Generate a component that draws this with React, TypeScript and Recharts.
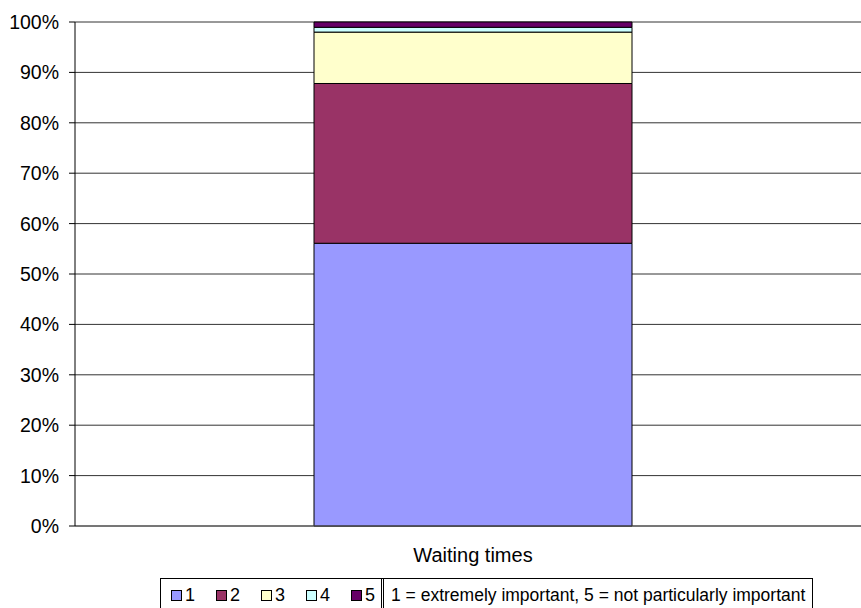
import { BarChart, Bar, XAxis, YAxis, CartesianGrid } from 'recharts';

// one stacked bar: share of answers per importance rating
const categories = ['Waiting times'];
const ratingKeys = ['1', '2', '3', '4', '5'];
const ratingShares = [56.1, 31.7, 10.2, 0.95, 1.05];
const ratingColors = ['#9999FF', '#993366', '#FFFFCC', '#CCFFFF', '#660066'];
const yTicks = [0, 10, 20, 30, 40, 50, 60, 70, 80, 90, 100];
const legendNote = '1 = extremely important, 5 = not particularly important';

const data = categories.map((name) => {
  const row: Record<string, string | number> = { name };
  ratingKeys.forEach((k, i) => {
    row[k] = ratingShares[i];
  });
  return row;
});

const font = '"Liberation Sans", Arial, sans-serif';

function App() {
  return (
    <div
      style={{
        position: 'absolute',
        left: 0,
        top: 0,
        width: 861,
        height: 608,
        overflow: 'hidden',
        background: '#fff',
        fontFamily: font,
      }}
    >
      <BarChart
        width={871}
        height={608}
        data={data}
        margin={{ top: 22, right: 0, left: 0, bottom: 52 }}
      >
        <CartesianGrid vertical={false} stroke="#333" />
        <XAxis
          dataKey="name"
          height={30}
          tickLine={false}
          tickSize={0}
          tickMargin={22}
          axisLine={{ stroke: '#555' }}
          tick={{ fill: '#000', fontSize: 20, fontFamily: font }}
        />
        <YAxis
          width={75}
          domain={[0, 100]}
          ticks={yTicks}
          interval={0}
          tickFormatter={(v: number) => `${v}%`}
          tickSize={6}
          tickMargin={10}
          axisLine={{ stroke: '#000' }}
          tickLine={{ stroke: '#000' }}
          tick={{ fill: '#000', fontSize: 19.5, fontFamily: font }}
        />
        {ratingKeys.map((k, i) => (
          <Bar
            key={k}
            dataKey={k}
            stackId="a"
            fill={ratingColors[i]}
            stroke="#000"
            strokeWidth={1}
            barSize={318}
            isAnimationActive={false}
          />
        ))}
      </BarChart>

      {/* legend box + note box, drawn like the spreadsheet original */}
      <div
        style={{
          position: 'absolute',
          left: 160,
          top: 578,
          height: 34,
          display: 'flex',
          fontSize: 18,
          color: '#000',
        }}
      >
        <div
          style={{
            border: '1px solid #000',
            borderRight: '3px double #000',
            display: 'flex',
            alignItems: 'center',
            paddingLeft: 10,
            width: 224,
            boxSizing: 'border-box',
          }}
        >
          {ratingKeys.map((k, i) => (
            <span
              key={k}
              style={{ display: 'flex', alignItems: 'center', width: 45, flexShrink: 0 }}
            >
              <span
                style={{
                  display: 'inline-block',
                  width: 9,
                  height: 9,
                  background: ratingColors[i],
                  border: '1px solid #000',
                  marginRight: 3,
                }}
              />
              {k}
            </span>
          ))}
        </div>
        <div
          style={{
            border: '1px solid #000',
            borderLeft: 'none',
            display: 'flex',
            alignItems: 'center',
            paddingLeft: 7,
            width: 429,
            boxSizing: 'border-box',
            whiteSpace: 'nowrap',
            fontSize: 17.5,
          }}
        >
          {legendNote}
        </div>
      </div>
    </div>
  );
}

export default App;
